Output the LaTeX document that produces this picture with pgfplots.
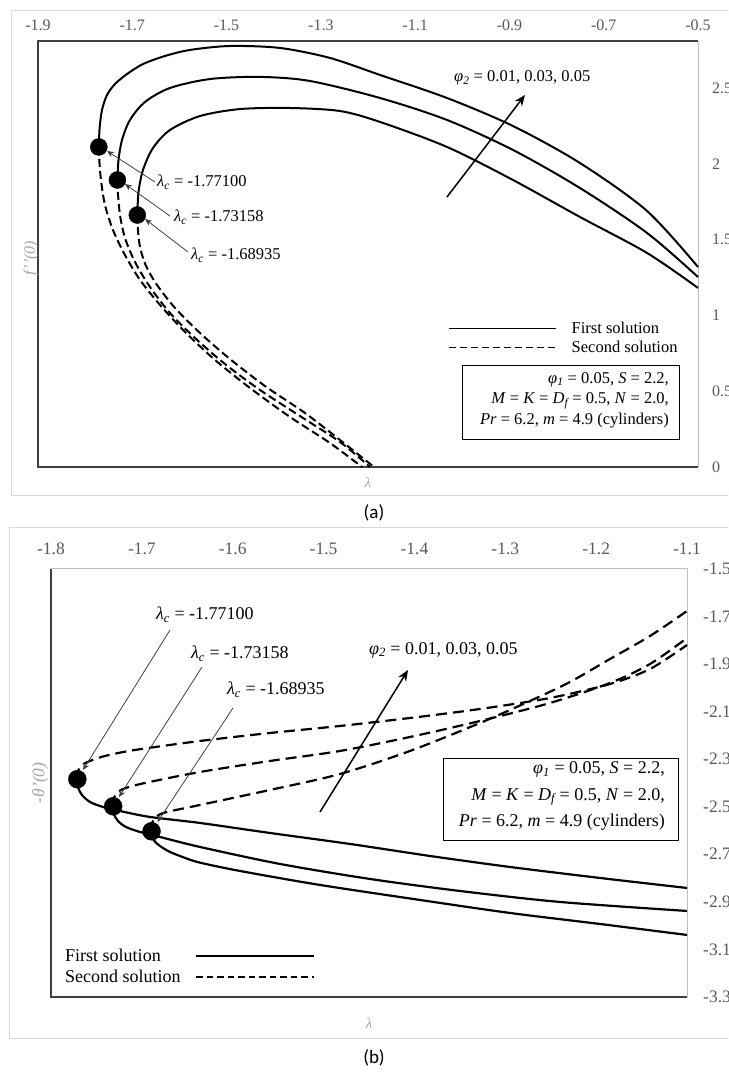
\documentclass[border=0pt]{standalone}
\usepackage{fontspec}
\setmainfont{Liberation Serif}
\newfontfamily\capfont{Carlito}
\usepackage{pgfplots}
\pgfplotsset{compat=1.18}
\usetikzlibrary{arrows.meta}

\definecolor{tickgray}{HTML}{595959}
\definecolor{titlegray}{HTML}{A6A6A6}
\definecolor{framegray}{HTML}{D9D9D9}
\definecolor{edgegray}{HTML}{BFBFBF}
\definecolor{boxdark}{HTML}{404040}

\newcommand\sub[1]{\textsubscript{\itshape #1}}
\newcommand\fA{\fontsize{16}{19}\selectfont}
\newcommand\fB{\fontsize{17.5}{21}\selectfont}

\begin{document}
\begin{tikzpicture}
\path[use as bounding box] (0pt,0pt) rectangle (728pt,1073pt);
\clip (0pt,0pt) rectangle (728pt,1073pt);

% chart-area frames
\begin{scope}[x=1pt,y=1pt]
\fill[white] (0,0) rectangle (728,1073);
\draw[framegray, line width=1pt] (11,1062) rectangle (745,577);
\draw[framegray, line width=1pt] (9,545) rectangle (745,34);
\end{scope}

% ---------------- (a) skin friction f''(0) ----------------
\begin{axis}[
  at={(38pt,606pt)}, anchor=south west,
  scale only axis, width=660pt, height=426pt,
  xmin=-1.9, xmax=-0.5, ymin=0, ymax=2.81,
  clip=false,
  axis line style={draw=none},
  major tick length=0pt,
  /pgf/number format/assume math mode=true,
  xtick={-1.9,-1.7,-1.5,-1.3,-1.1,-0.9,-0.7,-0.5},
  xticklabels={-1.9,-1.7,-1.5,-1.3,-1.1,-0.9,-0.7,-0.5},
  xticklabel pos=upper,
  ytick={0,0.5,1,1.5,2,2.5},
  yticklabels={0,0.5,1,1.5,2,2.5},
  yticklabel pos=right,
  xticklabel style={anchor=center, yshift=16pt, font=\fA, text=tickgray, inner sep=0pt},
  yticklabel style={anchor=west, xshift=14pt, font=\fA, text=tickgray, inner sep=0pt},
  xlabel={\textit{λ}},
  xlabel style={at={(0.5,-0.0376)}, anchor=center, font=\fontsize{14}{16}\selectfont, text=titlegray},
  legend image code/.code={\draw[#1] (0pt,0pt) -- (107pt,0pt);},
  legend cell align=left,
  legend style={draw=none, fill=none, inner sep=0pt, at={(0.6212,0.345)}, anchor=north west,
    font=\fontsize{16.5}{19}\selectfont, row sep=2pt,
    /tikz/every odd column/.append style={column sep=13pt}},
  every axis plot/.append style={tension=0.5},
]
% plot-area border
\draw[boxdark, line width=1.3pt] (rel axis cs:1,1) -- (rel axis cs:0,1) -- (rel axis cs:0,0) -- (rel axis cs:1,0);
\draw[edgegray, line width=1pt] (rel axis cs:1,0) -- (rel axis cs:1,1);

% first solutions, phi2 = 0.05, 0.03, 0.01
\addplot[black, line width=2pt, smooth, forget plot] coordinates {
(-1.77100,2.111) (-1.7693,2.236) (-1.7642,2.355) (-1.7536,2.454) (-1.7367,2.526)
(-1.7112,2.592) (-1.6773,2.658) (-1.6306,2.711) (-1.5776,2.751) (-1.4927,2.777)
(-1.3867,2.764) (-1.2806,2.698) (-1.1745,2.586) (-1.0324,2.434) (-0.8924,2.249)
(-0.7503,2.005) (-0.6082,1.689) (-0.5000,1.319)};
\addplot[black, line width=2pt, smooth, forget plot] coordinates {
(-1.73158,1.893) (-1.7292,2.025) (-1.7218,2.157) (-1.7049,2.289) (-1.6730,2.408)
(-1.6200,2.500) (-1.5352,2.559) (-1.4291,2.573) (-1.3230,2.546) (-1.1745,2.434)
(-1.0324,2.289) (-0.8924,2.091) (-0.7503,1.840) (-0.6082,1.544) (-0.5000,1.253)};
\addplot[black, line width=2pt, smooth, forget plot] coordinates {
(-1.68935,1.662) (-1.6868,1.814) (-1.6773,1.959) (-1.6561,2.104) (-1.6200,2.223)
(-1.5564,2.315) (-1.4715,2.361) (-1.3655,2.368) (-1.2594,2.348) (-1.1745,2.276)
(-1.0324,2.111) (-0.8924,1.893) (-0.7503,1.649) (-0.6082,1.412) (-0.5000,1.181)};

% second solutions
\addplot[black, line width=2pt, dash pattern=on 8pt off 4pt, smooth, forget plot] coordinates {
(-1.77100,2.111) (-1.7700,2.025) (-1.7664,1.893) (-1.7579,1.728) (-1.7409,1.563)
(-1.7155,1.398) (-1.6836,1.234) (-1.6412,1.069) (-1.5882,0.891) (-1.5245,0.706)
(-1.4503,0.521) (-1.3655,0.330) (-1.2806,0.158) (-1.2127,0.000)};
\addplot[black, line width=2pt, dash pattern=on 8pt off 4pt, smooth, forget plot] coordinates {
(-1.73158,1.893) (-1.7305,1.807) (-1.7261,1.662) (-1.7155,1.511) (-1.6942,1.352)
(-1.6624,1.187) (-1.6200,1.016) (-1.5670,0.851) (-1.5033,0.679) (-1.4291,0.508)
(-1.3442,0.336) (-1.2594,0.165) (-1.1958,0.000)};
\addplot[black, line width=2pt, dash pattern=on 8pt off 4pt, smooth, forget plot] coordinates {
(-1.68935,1.662) (-1.6883,1.577) (-1.6836,1.451) (-1.6709,1.326) (-1.6476,1.201)
(-1.6094,1.049) (-1.5564,0.884) (-1.4927,0.712) (-1.4185,0.534) (-1.3336,0.356)
(-1.2594,0.178) (-1.1873,0.000)};

% turning points
\addplot[only marks, mark=*, mark size=8.5pt, black, forget plot] coordinates {
(-1.77100,2.111) (-1.73158,1.893) (-1.68935,1.662)};

\addlegendimage{black, line width=1.5pt}
\addlegendentry{First solution}
\addlegendimage{black, line width=1.5pt, dash pattern=on 7pt off 4pt}
\addlegendentry{Second solution}
\end{axis}

% ---------------- (b) heat transfer -theta'(0) ----------------
\begin{axis}[
  at={(51pt,76pt)}, anchor=south west,
  scale only axis, width=636pt, height=428pt,
  xmin=-1.8, xmax=-1.1, ymin=-3.3, ymax=-1.5,
  clip=false,
  axis line style={draw=none},
  major tick length=0pt,
  /pgf/number format/assume math mode=true,
  xtick={-1.8,-1.7,-1.6,-1.5,-1.4,-1.3,-1.2,-1.1},
  xticklabels={-1.8,-1.7,-1.6,-1.5,-1.4,-1.3,-1.2,-1.1},
  xticklabel pos=upper,
  ytick={-3.3,-3.1,-2.9,-2.7,-2.5,-2.3,-2.1,-1.9,-1.7,-1.5},
  yticklabels={-3.3,-3.1,-2.9,-2.7,-2.5,-2.3,-2.1,-1.9,-1.7,-1.5},
  yticklabel pos=right,
  xticklabel style={anchor=center, yshift=20.5pt, font=\fB, text=tickgray, inner sep=0pt},
  yticklabel style={anchor=west, xshift=16pt, font=\fB, text=tickgray, inner sep=0pt},
  xlabel={\textit{λ}},
  xlabel style={at={(0.5,-0.0607)}, anchor=center, font=\fontsize{15}{17}\selectfont, text=titlegray},
  legend image code/.code={\draw[#1] (0pt,0pt) -- (118pt,0pt);},
  legend plot pos=right,
  legend cell align=left,
  legend style={draw=none, fill=none, inner sep=0pt, at={(0.0189,0.1168)}, anchor=north west,
    font=\fontsize{18}{21}\selectfont, row sep=3pt,
    /tikz/every odd column/.append style={column sep=13pt}},
  every axis plot/.append style={tension=0.5},
]
\draw[boxdark, line width=1.3pt] (rel axis cs:0,1) -- (rel axis cs:0,0) -- (rel axis cs:1,0);
\draw[edgegray, line width=1pt] (rel axis cs:0,1) -- (rel axis cs:1,1) -- (rel axis cs:1,0);

% first solutions
\addplot[black, line width=2.2pt, smooth, forget plot] coordinates {
(-1.77100,-2.384) (-1.7703,-2.4167) (-1.7659,-2.4504) (-1.7571,-2.4798) (-1.7428,-2.5008)
(-1.7241,-2.5177) (-1.6910,-2.5429) (-1.6360,-2.5681) (-1.5590,-2.6102) (-1.4709,-2.6564)
(-1.3829,-2.7069) (-1.2948,-2.7532) (-1.1958,-2.7994) (-1.1000,-2.8415)};
\addplot[black, line width=2.2pt, smooth, forget plot] coordinates {
(-1.73158,-2.498) (-1.7307,-2.5303) (-1.7263,-2.5597) (-1.7175,-2.5850) (-1.7020,-2.6060)
(-1.6800,-2.6270) (-1.6360,-2.6690) (-1.5480,-2.7405) (-1.4489,-2.8036) (-1.3499,-2.8541)
(-1.2398,-2.9003) (-1.1000,-2.9382)};
\addplot[black, line width=2.2pt, smooth, forget plot] coordinates {
(-1.68935,-2.603) (-1.6870,-2.6400) (-1.6800,-2.6650) (-1.6690,-2.6900) (-1.6525,-2.7150)
(-1.6360,-2.7350) (-1.5920,-2.7700) (-1.5039,-2.8288) (-1.3939,-2.8919) (-1.2948,-2.9466)
(-1.1958,-2.9929) (-1.1000,-3.0391)};

% second solutions
\addplot[black, line width=2.2pt, dash pattern=on 11pt off 6pt, smooth, forget plot] coordinates {
(-1.77100,-2.384) (-1.7703,-2.3495) (-1.7659,-2.3242) (-1.7571,-2.3074) (-1.7406,-2.2864)
(-1.7075,-2.2611) (-1.6360,-2.2233) (-1.5590,-2.1897) (-1.4819,-2.1602) (-1.4049,-2.1266)
(-1.3278,-2.0887) (-1.2508,-2.0425) (-1.1848,-1.9836) (-1.1407,-1.9205) (-1.1000,-1.8196)};
\addplot[black, line width=2.2pt, dash pattern=on 11pt off 6pt, smooth, forget plot] coordinates {
(-1.73158,-2.498) (-1.7307,-2.4630) (-1.7263,-2.4377) (-1.7175,-2.4209) (-1.6965,-2.3999)
(-1.6360,-2.3537) (-1.5590,-2.3074) (-1.4819,-2.2653) (-1.4049,-2.2065) (-1.3278,-2.1392)
(-1.2508,-2.0635) (-1.1848,-1.9794) (-1.1407,-1.8995) (-1.1000,-1.7902)};
\addplot[black, line width=2.2pt, dash pattern=on 11pt off 6pt, smooth, forget plot] coordinates {
(-1.68935,-2.603) (-1.6883,-2.5639) (-1.6833,-2.5387) (-1.6723,-2.5219) (-1.6360,-2.4924)
(-1.5590,-2.4293) (-1.4819,-2.3621) (-1.4049,-2.2653) (-1.3278,-2.1476) (-1.2728,-2.0551)
(-1.2288,-1.9752) (-1.1848,-1.8785) (-1.1407,-1.7817) (-1.1000,-1.6766)};

% turning points
\addplot[only marks, mark=*, mark size=9pt, black, forget plot] coordinates {
(-1.77100,-2.384) (-1.73158,-2.498) (-1.68935,-2.603)};

\addlegendimage{black, line width=1.5pt}
\addlegendentry{First solution}
\addlegendimage{black, line width=1.5pt, dash pattern=on 6.5pt off 4pt}
\addlegendentry{Second solution}
\end{axis}

% ---------------- annotations ----------------
\begin{scope}[x=1pt,y=1pt]
% vertical axis titles
\node[rotate=90, font=\fA, text=titlegray, inner sep=0pt] at (31,815) {\textit{f\kern0.2pt'\kern0.2pt'(0)}};
\node[rotate=90, font=\fB, text=titlegray, inner sep=0pt] at (40,290) {\textit{-θ\kern0.2pt'(0)}};
% (a)
\begin{scope}[font=\fontsize{16.5}{19}\selectfont]
\node[anchor=west, inner sep=0pt] at (157,891) {\textit{λ}\sub{c} = -1.77100};
\node[anchor=west, inner sep=0pt] at (174,856) {\textit{λ}\sub{c} = -1.73158};
\node[anchor=west, inner sep=0pt] at (191,818) {\textit{λ}\sub{c} = -1.68935};
\draw[boxdark, line width=0.8pt, -{Stealth[length=7pt,width=6pt]}] (155,891) -- (107,922);
\draw[boxdark, line width=0.8pt, -{Stealth[length=7pt,width=6pt]}] (170,857) -- (125,889);
\draw[boxdark, line width=0.8pt, -{Stealth[length=7pt,width=6pt]}] (188,821) -- (145,854);
\draw[black, line width=1.5pt, -{Stealth[length=11pt,width=9pt]}] (447,876) -- (525,978);
\node[anchor=west, inner sep=0pt] at (454,995) {\textit{φ}\sub{2} = 0.01, 0.03, 0.05};
\draw[black, line width=1pt] (462,707) rectangle (679,633);
\node[anchor=east, align=right, inner sep=0pt, font=\fontsize{16.5}{20.5}\selectfont] at (669,673)
  {\textit{φ}\sub{1} = 0.05, \textit{S} = 2.2,\\
   \textit{M} = \textit{K} = \textit{D}\sub{f} = 0.5, \textit{N} = 2.0,\\
   \textit{Pr} = 6.2, \textit{m} = 4.9 (cylinders)};
\end{scope}
% (b)
\begin{scope}[font=\fontsize{18}{21}\selectfont]
\node[anchor=west, inner sep=0pt] at (156,458) {\textit{λ}\sub{c} = -1.77100};
\node[anchor=west, inner sep=0pt] at (191,419) {\textit{λ}\sub{c} = -1.73158};
\node[anchor=west, inner sep=0pt] at (227,383) {\textit{λ}\sub{c} = -1.68935};
\draw[boxdark, line width=0.8pt, -{Stealth[length=7pt,width=6pt]}] (170,443) -- (83,303);
\draw[boxdark, line width=0.8pt, -{Stealth[length=7pt,width=6pt]}] (202,406) -- (119,276);
\draw[boxdark, line width=0.8pt, -{Stealth[length=7pt,width=6pt]}] (233,365) -- (157.5,251);
\draw[black, line width=1.5pt, -{Stealth[length=11pt,width=9pt]}] (320,261) -- (408,403);
\node[anchor=west, inner sep=0pt] at (369,423) {\textit{φ}\sub{2} = 0.01, 0.03, 0.05};
\draw[black, line width=1pt] (443,314) rectangle (678,232);
\node[anchor=east, align=right, inner sep=0pt, font=\fontsize{18}{26.5}\selectfont] at (665,277)
  {\textit{φ}\sub{1} = 0.05, \textit{S} = 2.2,\\
   \textit{M} = \textit{K} = \textit{D}\sub{f} = 0.5, \textit{N} = 2.0,\\
   \textit{Pr} = 6.2, \textit{m} = 4.9 (cylinders)};
\end{scope}
% panel captions
\node[font=\capfont\fontsize{19}{22}\selectfont] at (374,560) {(a)};
\node[font=\capfont\fontsize{19}{22}\selectfont] at (374,15) {(b)};
\end{scope}
\end{tikzpicture}
\end{document}
